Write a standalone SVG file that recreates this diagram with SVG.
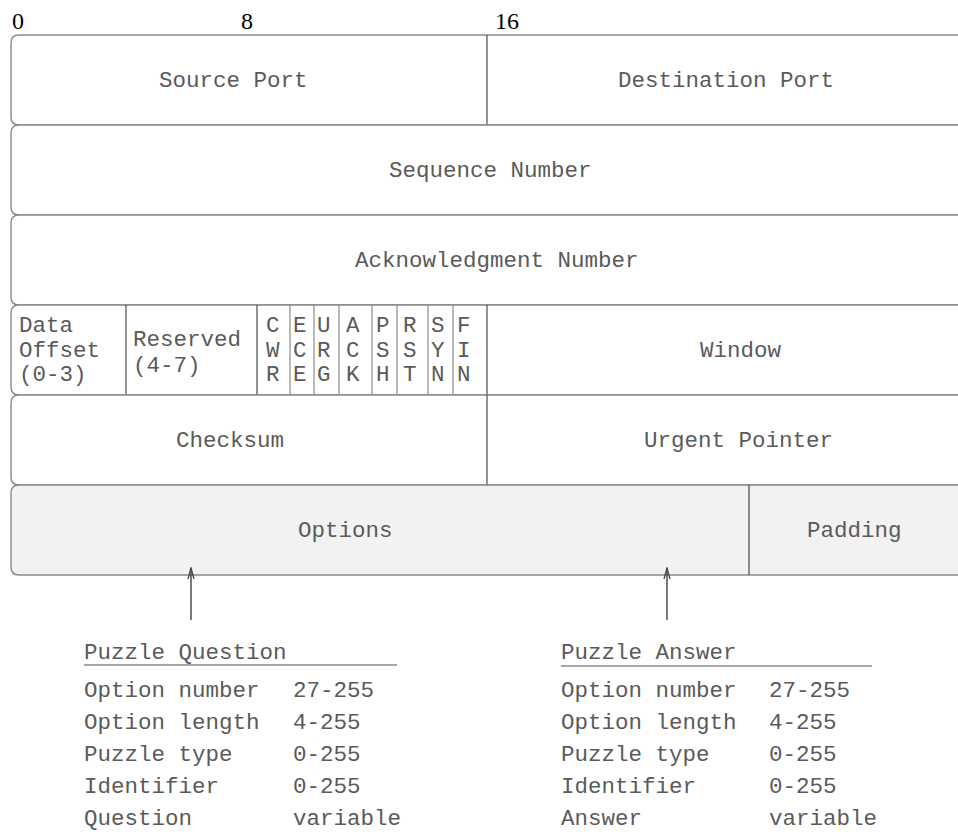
<svg xmlns="http://www.w3.org/2000/svg" width="958" height="834" viewBox="0 0 958 834">
  <style>
    .row { fill: #ffffff; stroke: #8a8a8a; stroke-width: 1.4; }
    .row.opt { fill: #f2f2f2; }
    .div { stroke: #4a4a4a; stroke-width: 1.2; }
    .fdiv { stroke: #8a8a8a; stroke-width: 1.2; }
    .lbl { font-family: "Liberation Mono", "DejaVu Sans Mono", monospace; font-size: 22.5px; fill: #5a5a5a; }
    .bit { font-family: "Liberation Serif", "Times New Roman", serif; font-size: 24px; fill: #000000; }
    .rule { stroke: #8a8a8a; stroke-width: 1.6; }
    .conn { stroke: #444444; stroke-width: 1.4; fill: none; }
  </style>
  <defs>
    <marker id="head" markerWidth="12" markerHeight="12" refX="11" refY="6" orient="auto" markerUnits="userSpaceOnUse">
      <path d="M0,3 L11,6 L0,9" fill="none" stroke="#444444" stroke-width="1.3"/>
    </marker>
  </defs>

  <rect x="0" y="0" width="958" height="834" fill="#ffffff"/>

  <!-- bit offsets -->
  <g id="bit-scale">
    <text class="bit" x="12" y="29">0</text>
    <text class="bit" x="241" y="29">8</text>
    <text class="bit" x="495" y="29">16</text>
  </g>

  <!-- header rows: rounded on the left, running off the right edge -->
  <g id="row-ports">
    <path class="row" d="M970,35 H19 Q11,35 11,43 V117 Q11,125 19,125 H970"/>
    <line class="div" x1="487" y1="35" x2="487" y2="125"/>
    <text class="lbl" x="159" y="87">Source Port</text>
    <text class="lbl" x="618" y="87">Destination Port</text>
  </g>

  <g id="row-sequence">
    <path class="row" d="M970,125 H19 Q11,125 11,133 V207 Q11,215 19,215 H970"/>
    <text class="lbl" x="389" y="177">Sequence Number</text>
  </g>

  <g id="row-ack">
    <path class="row" d="M970,215 H19 Q11,215 11,223 V297 Q11,305 19,305 H970"/>
    <text class="lbl" x="355" y="267">Acknowledgment Number</text>
  </g>

  <g id="row-flags">
    <path class="row" d="M970,305 H19 Q11,305 11,313 V387 Q11,395 19,395 H970"/>
    <line class="div" x1="126" y1="305" x2="126" y2="395"/>
    <line class="div" x1="257" y1="305" x2="257" y2="395"/>
    <line class="fdiv" x1="290" y1="305" x2="290" y2="395"/>
    <line class="fdiv" x1="314" y1="305" x2="314" y2="395"/>
    <line class="fdiv" x1="339" y1="305" x2="339" y2="395"/>
    <line class="fdiv" x1="372" y1="305" x2="372" y2="395"/>
    <line class="fdiv" x1="397" y1="305" x2="397" y2="395"/>
    <line class="fdiv" x1="428" y1="305" x2="428" y2="395"/>
    <line class="fdiv" x1="453" y1="305" x2="453" y2="395"/>
    <line class="div" x1="487" y1="305" x2="487" y2="395"/>
    <text class="lbl" x="19" y="332">Data</text>
    <text class="lbl" x="19" y="357">Offset</text>
    <text class="lbl" x="19" y="381">(0-3)</text>
    <text class="lbl" x="133" y="346">Reserved</text>
    <text class="lbl" x="133" y="372">(4-7)</text>
    <g id="flag-letters">
      <text class="lbl" x="266" y="332">C</text><text class="lbl" x="266" y="357">W</text><text class="lbl" x="266" y="381">R</text>
      <text class="lbl" x="293" y="332">E</text><text class="lbl" x="293" y="357">C</text><text class="lbl" x="293" y="381">E</text>
      <text class="lbl" x="317" y="332">U</text><text class="lbl" x="317" y="357">R</text><text class="lbl" x="317" y="381">G</text>
      <text class="lbl" x="346" y="332">A</text><text class="lbl" x="346" y="357">C</text><text class="lbl" x="346" y="381">K</text>
      <text class="lbl" x="376" y="332">P</text><text class="lbl" x="376" y="357">S</text><text class="lbl" x="376" y="381">H</text>
      <text class="lbl" x="403" y="332">R</text><text class="lbl" x="403" y="357">S</text><text class="lbl" x="403" y="381">T</text>
      <text class="lbl" x="431" y="332">S</text><text class="lbl" x="431" y="357">Y</text><text class="lbl" x="431" y="381">N</text>
      <text class="lbl" x="457" y="332">F</text><text class="lbl" x="457" y="357">I</text><text class="lbl" x="457" y="381">N</text>
    </g>
    <text class="lbl" x="700" y="357">Window</text>
  </g>

  <g id="row-checksum">
    <path class="row" d="M970,395 H19 Q11,395 11,403 V477 Q11,485 19,485 H970"/>
    <line class="div" x1="487" y1="395" x2="487" y2="485"/>
    <text class="lbl" x="176" y="447">Checksum</text>
    <text class="lbl" x="644" y="447">Urgent Pointer</text>
  </g>

  <g id="row-options">
    <path class="row opt" d="M970,485 H19 Q11,485 11,493 V567 Q11,575 19,575 H970"/>
    <line class="div" x1="749" y1="485" x2="749" y2="575"/>
    <text class="lbl" x="298" y="537">Options</text>
    <text class="lbl" x="807" y="537">Padding</text>
  </g>

  <!-- pointers from the option tables up to the Options field -->
  <g id="connectors">
    <line class="conn" x1="191" y1="620" x2="191" y2="568" marker-end="url(#head)"/>
    <line class="conn" x1="667" y1="620" x2="667" y2="568" marker-end="url(#head)"/>
  </g>

  <g id="puzzle-question">
    <text class="lbl" x="84" y="659">Puzzle Question</text>
    <line class="rule" x1="84" y1="665" x2="397" y2="665"/>
    <text class="lbl" x="84" y="697">Option number</text><text class="lbl" x="293" y="697">27-255</text>
    <text class="lbl" x="84" y="729">Option length</text><text class="lbl" x="293" y="729">4-255</text>
    <text class="lbl" x="84" y="761">Puzzle type</text><text class="lbl" x="293" y="761">0-255</text>
    <text class="lbl" x="84" y="793">Identifier</text><text class="lbl" x="293" y="793">0-255</text>
    <text class="lbl" x="84" y="825">Question</text><text class="lbl" x="293" y="825">variable</text>
  </g>

  <g id="puzzle-answer">
    <text class="lbl" x="561" y="659">Puzzle Answer</text>
    <line class="rule" x1="561" y1="666" x2="872" y2="666"/>
    <text class="lbl" x="561" y="697">Option number</text><text class="lbl" x="769" y="697">27-255</text>
    <text class="lbl" x="561" y="729">Option length</text><text class="lbl" x="769" y="729">4-255</text>
    <text class="lbl" x="561" y="761">Puzzle type</text><text class="lbl" x="769" y="761">0-255</text>
    <text class="lbl" x="561" y="793">Identifier</text><text class="lbl" x="769" y="793">0-255</text>
    <text class="lbl" x="561" y="825">Answer</text><text class="lbl" x="769" y="825">variable</text>
  </g>
</svg>
